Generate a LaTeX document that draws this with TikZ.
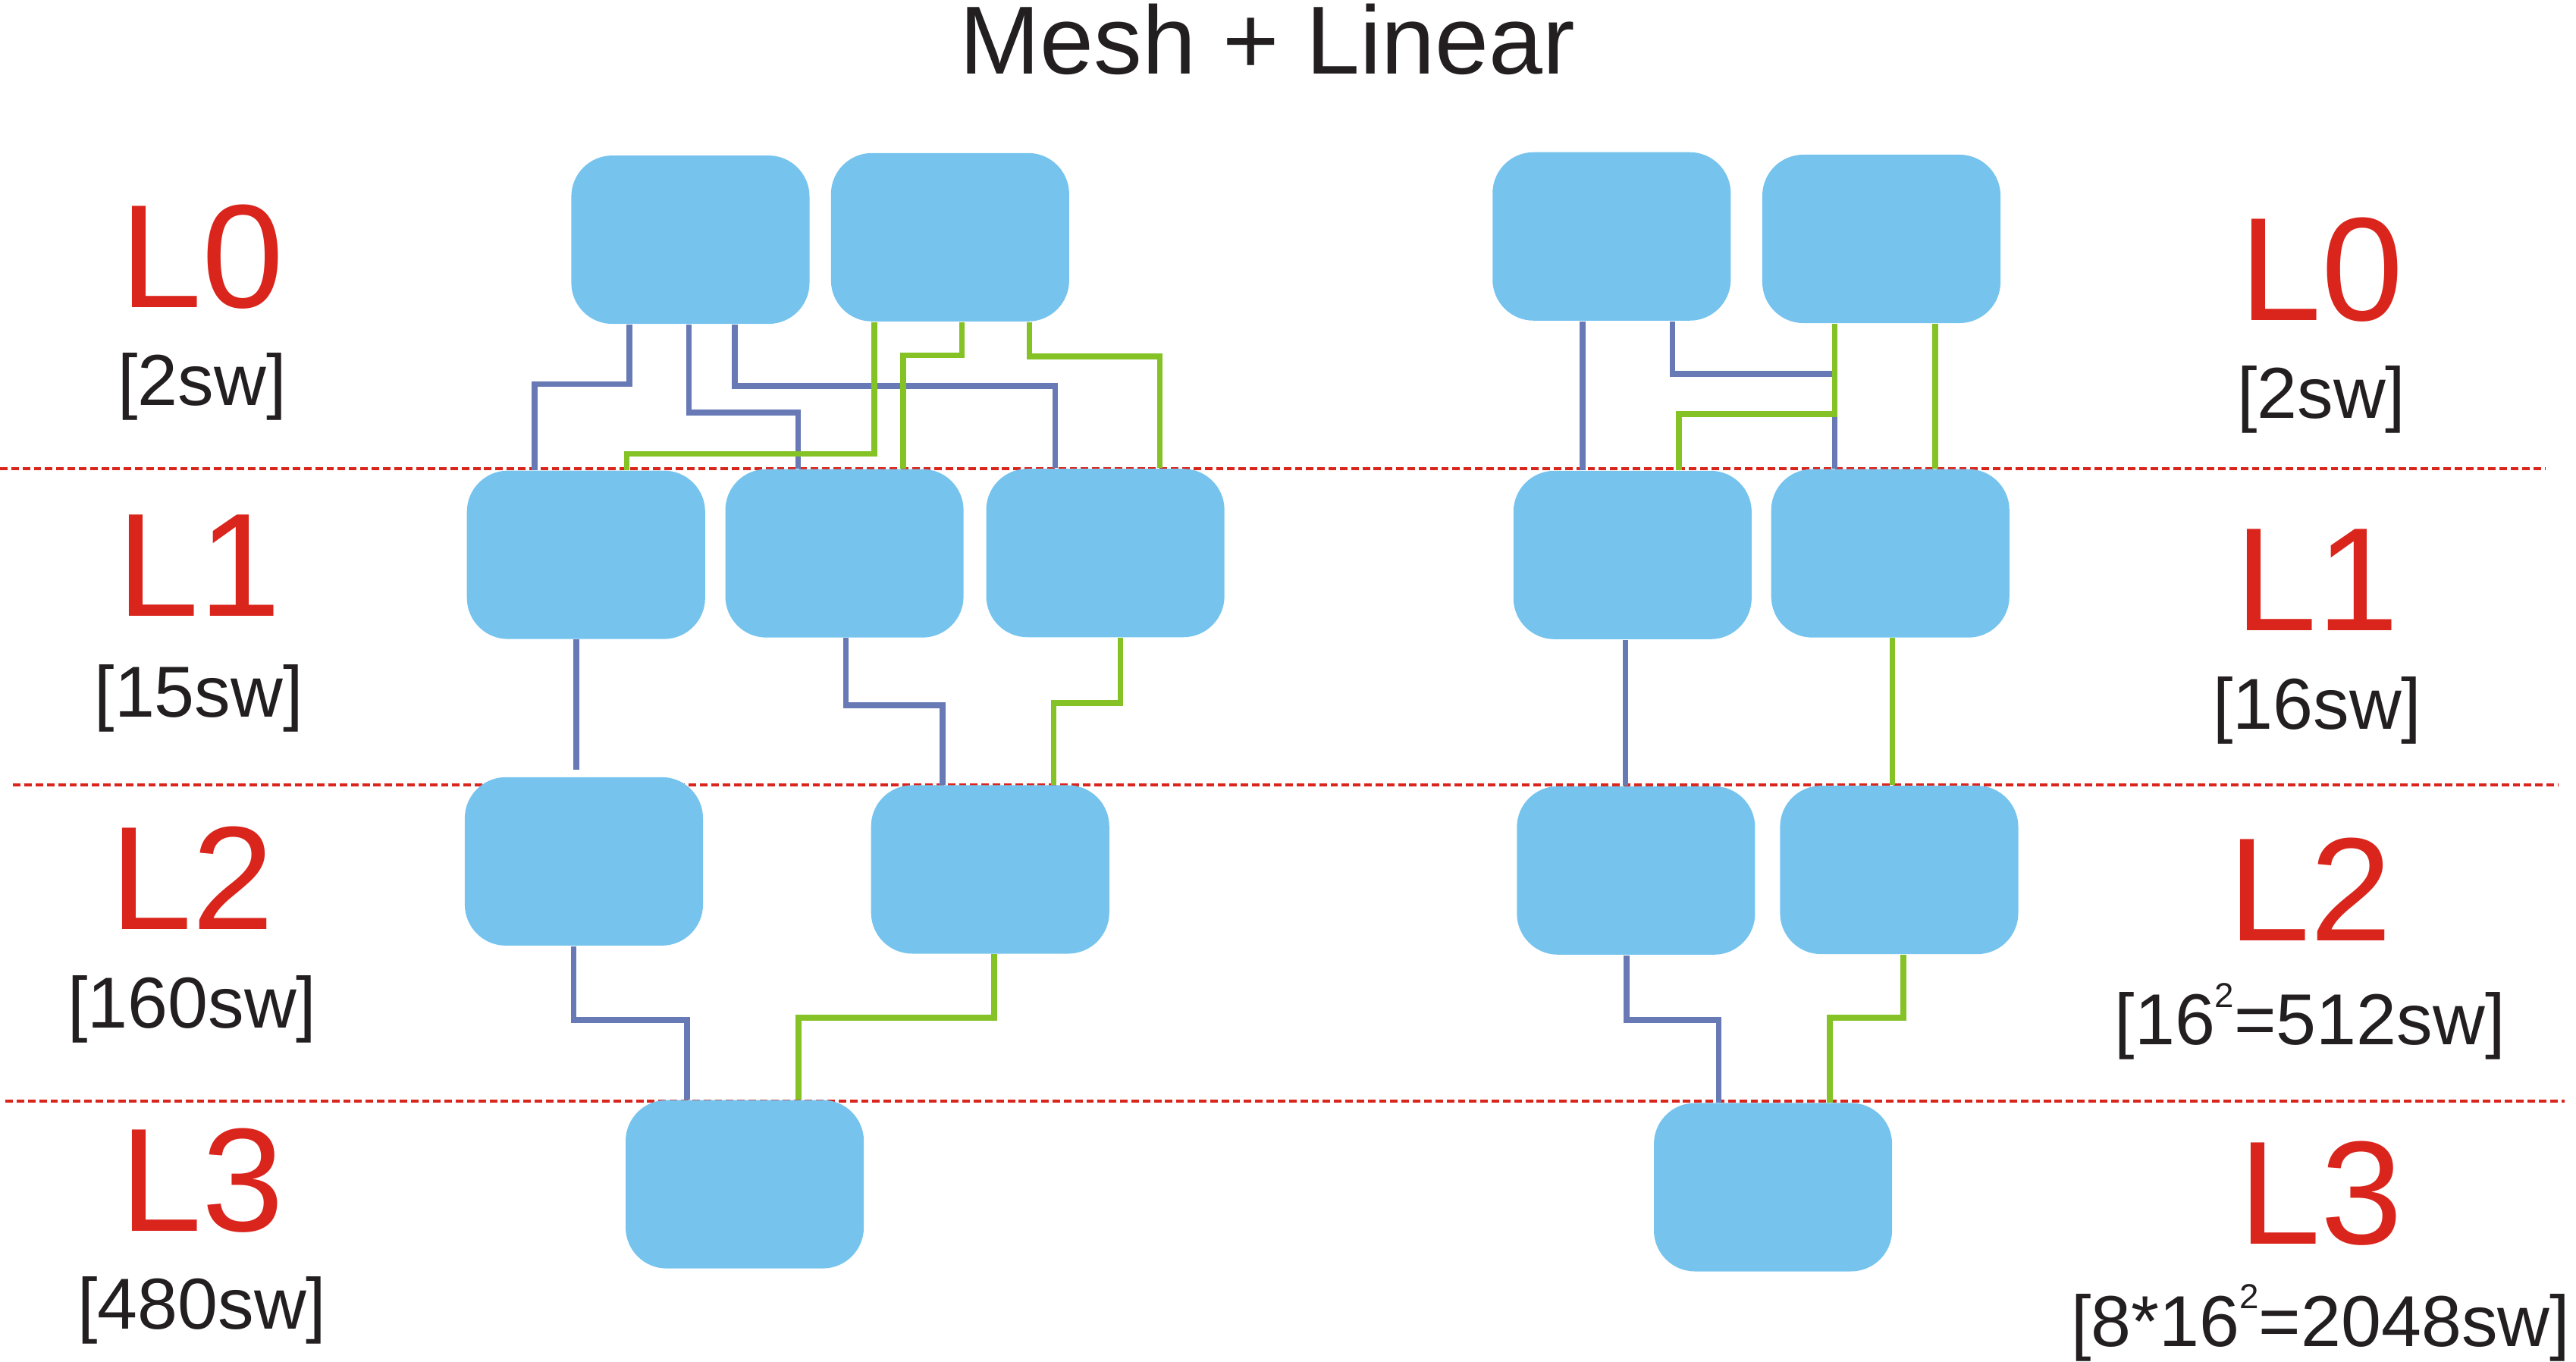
\documentclass[tikz,border=0pt]{standalone}
\usepackage{fontspec}
\setmainfont{Liberation Sans}
\usepackage{xcolor}
\usepackage{tikz}
\usetikzlibrary{positioning}

\definecolor{boxblue}{RGB}{118,196,238}
\definecolor{linkblue}{RGB}{103,122,181}
\definecolor{linkgreen}{RGB}{132,194,38}
\definecolor{levelred}{RGB}{218,37,29}
\definecolor{inkblack}{RGB}{35,31,32}

\newcommand{\sqtwo}{\raisebox{13pt}{\fontsize{12}{12}\selectfont 2}}

\begin{document}
\begin{tikzpicture}[
  switchbox/.style={fill=boxblue, rounded corners=0.5cm, minimum width=2.9cm, minimum height=2.05cm, inner sep=0pt},
  bline/.style={linkblue, line width=2pt},
  gline/.style={linkgreen, line width=2pt},
  lvltext/.style={text=levelred, font=\fontsize{51}{51}\selectfont, anchor=base, inner sep=0pt},
  swcount/.style={text=inkblack, font=\fontsize{25}{25}\selectfont, inner sep=0pt},
  levelsep/.style={levelred, line width=0.9pt, dash pattern=on 2.6pt off 1.3pt}
]
\useasboundingbox (0,0) rectangle (31.36,-16.58);

% Title
\node[font=\fontsize{33.5}{33.5}\selectfont, text=inkblack, anchor=base, inner sep=0pt] (title) at (15.43,-0.9) {Mesh + Linear};

% Level separators
\foreach \ya/\xa/\xb in {-5.706/0/30.99, -9.556/0.16/31.15, -13.406/0.066/31.22}
  \draw[levelsep] (\xa,\ya) -- (\xb,\ya);

% Levels, left
\node[lvltext] (ml0) at (2.46,-3.748) {L0};
\node[swcount, below=1.188cm of ml0.base, anchor=base] (mc0) {[2sw]};
\node[lvltext] (ml1) at (2.42,-7.5) {L1};
\node[swcount, below=1.23cm of ml1.base, anchor=base] (mc1) {[15sw]};
\node[lvltext] (ml2) at (2.34,-11.31) {L2};
\node[swcount, below=1.204cm of ml2.base, anchor=base] (mc2) {[160sw]};
\node[lvltext] (ml3) at (2.46,-14.992) {L3};
\node[swcount, below=1.188cm of ml3.base, anchor=base] (mc3) {[480sw]};

% Levels, right
\node[lvltext] (ll0) at (28.26,-3.904) {L0};
\node[swcount, below=1.188cm of ll0.base, anchor=base] (lc0) {[2sw]};
\node[lvltext] (ll1) at (28.21,-7.672) {L1};
\node[swcount, below=1.206cm of ll1.base, anchor=base] (lc1) {[16sw]};
\node[lvltext] (ll2) at (28.12,-11.456) {L2};
\node[swcount, below=1.262cm of ll2.base, anchor=base] (lc2) {[16\sqtwo=512sw]};
\node[lvltext] (ll3) at (28.25,-15.14) {L3};
\node[swcount, below=1.248cm of ll3.base, anchor=base] (lc3) {[8*16\sqtwo=2048sw]};

% Mesh switches
\node[switchbox] (mesh0a) at (8.405,-2.918) {};
\node[switchbox] (mesh0b) at (11.566,-2.888) {};
\node[switchbox] (mesh1a) at (7.134,-6.754) {};
\node[switchbox] (mesh1b) at (10.28,-6.736) {};
\node[switchbox] (mesh1c) at (13.456,-6.732) {};
\node[switchbox] (mesh2a) at (7.108,-10.486) {};
\node[switchbox] (mesh2b) at (12.054,-10.584) {};
\node[switchbox] (mesh3) at (9.066,-14.416) {};

% Linear switches
\node[switchbox] (lin0a) at (19.62,-2.878) {};
\node[switchbox] (lin0b) at (22.904,-2.908) {};
\node[switchbox] (lin1a) at (19.874,-6.756) {};
\node[switchbox] (lin1b) at (23.012,-6.736) {};
\node[switchbox] (lin2a) at (19.916,-10.596) {};
\node[switchbox] (lin2b) at (23.12,-10.59) {};
\node[switchbox] (lin3) at (21.584,-14.452) {};

% Mesh links
\draw[bline] ([xshift=-7.45mm]mesh0a.south) -- ++(0,-0.726) -| ([xshift=-6.24mm]mesh1a.north);
\draw[bline] ([xshift=-0.17mm]mesh0a.south) -- ++(0,-1.074) -| ([xshift=-5.64mm]mesh1b.north);
\draw[bline] ([xshift=5.41mm]mesh0a.south) -- ++(0,-0.75) -| ([xshift=-6.12mm]mesh1c.north);
\draw[gline] ([xshift=-9.24mm]mesh0b.south) -- ++(0,-1.606) -| ([xshift=4.96mm]mesh1a.north);
\draw[gline] ([xshift=1.44mm]mesh0b.south) -- ++(0,-0.406) -| ([xshift=7.12mm]mesh1b.north);
\draw[gline] ([xshift=9.66mm]mesh0b.south) -- ++(0,-0.42) -| ([xshift=6.64mm]mesh1c.north);

\draw[bline, shorten >=0.8mm] ([xshift=-1.18mm]mesh1a.south) -- ([xshift=-1.18mm]mesh1a.south |- mesh2a.north);
\draw[bline] ([xshift=0.16mm]mesh1b.south) -- ++(0,-0.818) -| ([xshift=-5.8mm]mesh2b.north);
\draw[gline] ([xshift=1.84mm]mesh1c.south) -- ++(0,-0.796) -| ([xshift=7.74mm]mesh2b.north);

\draw[bline] ([xshift=-1.26mm]mesh2a.south) -- ++(0,-0.896) -| ([xshift=-7.02mm]mesh3.north);
\draw[gline] ([xshift=0.5mm]mesh2b.south) -- ++(0,-0.772) -| ([xshift=6.52mm]mesh3.north);

% Linear links
\draw[bline] ([xshift=-3.56mm]lin0a.south) -- ([xshift=-3.56mm]lin0a.south |- lin1a.north);
\draw[bline] ([xshift=7.4mm]lin0a.south) -- ++(0,-0.644) -| ([xshift=-6.78mm]lin1b.north);
\draw[gline] ([xshift=-5.7mm]lin0b.south) -- ++(0,-1.1) -| ([xshift=5.62mm]lin1a.north);
\draw[gline] ([xshift=6.54mm]lin0b.south) -- ([xshift=6.54mm]lin0b.south |- lin1b.north);

\draw[bline] ([xshift=-0.88mm]lin1a.south) -- ([xshift=-0.88mm]lin1a.south |- lin2a.north);
\draw[gline] ([xshift=0.24mm]lin1b.south) -- ([xshift=0.24mm]lin1b.south |- lin2b.north);

\draw[bline] ([xshift=-1.16mm]lin2a.south) -- ++(0,-0.786) -| ([xshift=-6.62mm]lin3.north);
\draw[gline] ([xshift=0.52mm]lin2b.south) -- ++(0,-0.766) -| ([xshift=6.94mm]lin3.north);

\end{tikzpicture}
\end{document}
